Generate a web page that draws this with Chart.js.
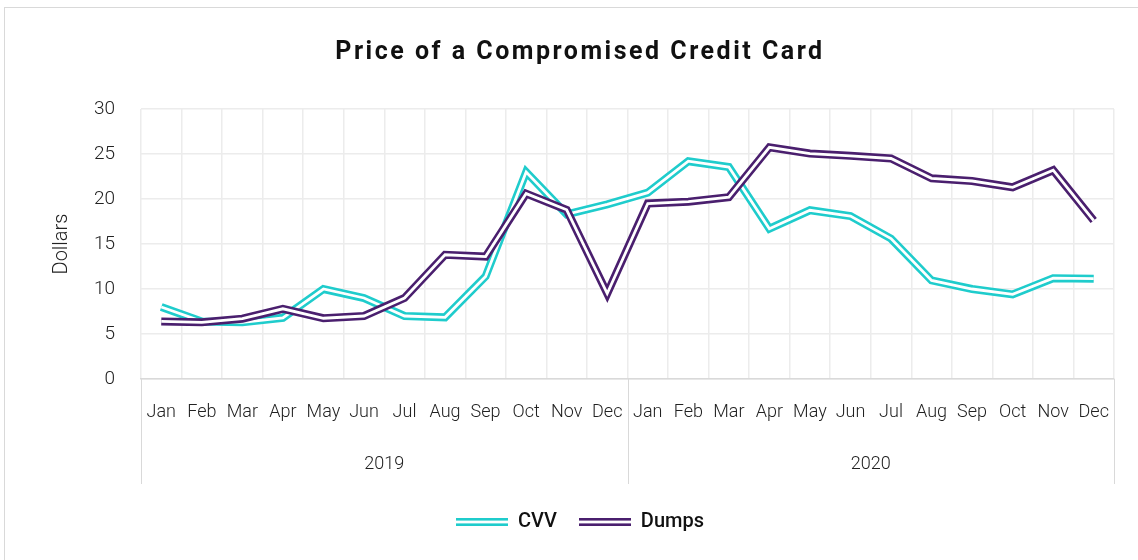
<!DOCTYPE html>
<html>
<head>
<meta charset="utf-8">
<script src="https://cdn.jsdelivr.net/npm/chart.js@4"></script>
<style>
  html, body { margin: 0; padding: 0; background: #ffffff; }
  #frame { position: absolute; left: 4px; top: 7px; width: 1160px; height: 600px; border: 1px solid #d9d9d9; box-sizing: border-box; }
  #wrap { position: absolute; left: 0; top: 0; width: 1138px; height: 560px; }
</style>
</head>
<body>
<div id="frame"></div>
<div id="wrap"><canvas id="c" width="1138" height="560"></canvas></div>
<script>
// ---- data ----
const monthLabels = ['Jan','Feb','Mar','Apr','May','Jun','Jul','Aug','Sep','Oct','Nov','Dec'];
const years = ['2019','2020'];
const cvv = [8.0, 6.4, 6.3, 6.8, 10.0, 9.0, 7.0, 6.85, 11.4, 23.0, 18.3, 19.4,
             20.7, 24.2, 23.55, 16.7, 18.75, 18.1, 15.6, 10.95, 10.0, 9.4, 11.2, 11.15];
const dumps = [6.4, 6.3, 6.7, 7.8, 6.75, 7.0, 9.0, 13.8, 13.6, 20.6, 18.8, 9.5,
               19.5, 19.7, 20.2, 25.75, 25.05, 24.8, 24.5, 22.3, 22.0, 21.3, 23.2, 17.6];
const yTicks = [0, 5, 10, 15, 20, 25, 30];

const categories = years.flatMap(() => monthLabels);

const CVV_COLOR = '#1fcccc';
const DUMPS_COLOR = '#4a1f6e';

function doubleLineSwatch(color) {
  const cv = document.createElement('canvas');
  cv.width = 52; cv.height = 8;
  const c = cv.getContext('2d');
  c.fillStyle = color; c.fillRect(0, 0, 52, 8);
  c.fillStyle = '#ffffff'; c.fillRect(0, 2.6, 52, 2.8);
  return cv;
}

const groupSeparators = {
  id: 'groupSeparators',
  afterDraw(chart) {
    const x = chart.scales.x, x2 = chart.scales.x2;
    const ctx = chart.ctx;
    const per = categories.length / years.length;
    ctx.save();
    ctx.strokeStyle = '#d9d9d9';
    ctx.lineWidth = 1;
    for (let g = 0; g <= years.length; g++) {
      const px = Math.round(x.getPixelForValue(g * per - 0.5)) + 0.5;
      ctx.beginPath();
      ctx.moveTo(px, x.top);
      ctx.lineTo(px, x2.bottom - 6);
      ctx.stroke();
    }
    ctx.restore();
  }
};

const titleSpacing = {
  id: 'titleSpacing',
  afterLayout(chart) {
    const tb = chart.titleBlock;
    if (tb && !tb._spaced) {
      const orig = tb.draw.bind(tb);
      tb.draw = function () {
        const c = this.ctx; c.save();
        try { c.letterSpacing = '2.5px'; } catch (e) {}
        orig(); c.restore();
      };
      tb._spaced = true;
    }
  }
};

const common = { pointRadius: 0, pointHoverRadius: 0, tension: 0, borderJoinStyle: 'miter', borderCapStyle: 'butt', fill: false };

new Chart(document.getElementById('c'), {
  type: 'line',
  data: {
    labels: categories,
    datasets: [
      Object.assign({ label: 'CVV', data: cvv, borderColor: CVV_COLOR, backgroundColor: CVV_COLOR, borderWidth: 8, pointStyle: doubleLineSwatch(CVV_COLOR), order: 4 }, common),
      Object.assign({ label: '', data: cvv, borderColor: '#ffffff', borderWidth: 2.8, order: 3 }, common),
      Object.assign({ label: 'Dumps', data: dumps, borderColor: DUMPS_COLOR, backgroundColor: DUMPS_COLOR, borderWidth: 8, pointStyle: doubleLineSwatch(DUMPS_COLOR), order: 2 }, common),
      Object.assign({ label: '', data: dumps, borderColor: '#ffffff', borderWidth: 2.8, order: 1 }, common)
    ]
  },
  options: {
    responsive: false,
    animation: false,
    layout: { padding: { left: 46, right: 24, top: 0, bottom: 18 } },
    plugins: {
      tooltip: { enabled: false },
      title: {
        display: true,
        text: 'Price of a Compromised Credit Card',
        color: '#111111',
        font: { family: 'Roboto', size: 25, weight: '700' },
        padding: { top: 38, bottom: 41 }
      },
      legend: {
        position: 'bottom',
        labels: {
          usePointStyle: true,
          pointStyleWidth: 52,
          padding: 22,
          color: '#111111',
          font: { family: 'Roboto', size: 20, weight: '500' },
          filter: (item) => item.text !== '',
          sort: (a, b) => a.datasetIndex - b.datasetIndex
        }
      }
    },
    scales: {
      x: {
        type: 'category',
        weight: 1,
        offset: true,
        grid: { display: true, offset: true, color: '#ececec', lineWidth: 1.5, drawTicks: false },
        border: { display: true, color: '#d9d9d9', width: 1.5 },
        ticks: { autoSkip: false, maxRotation: 0, minRotation: 0, padding: 23, color: '#222222', font: { family: 'Roboto', size: 18, weight: '300' } },
        afterFit(s) { s.height = 60; }
      },
      x2: {
        type: 'category',
        position: 'bottom',
        weight: 2,
        labels: years,
        offset: true,
        grid: { display: false, drawTicks: false },
        border: { display: false },
        ticks: { autoSkip: false, maxRotation: 0, padding: 15, color: '#222222', font: { family: 'Roboto', size: 18, weight: '300' } },
        afterFit(s) { s.height = 51; }
      },
      y: {
        min: 0, max: 30,
        afterBuildTicks(s) { s.ticks = yTicks.map(v => ({ value: v })); },
        grid: { color: '#ececec', lineWidth: 1.5, drawTicks: false },
        border: { display: false },
        ticks: { padding: 26, color: '#222222', font: { family: 'Roboto', size: 19, weight: '300' } },
        title: { display: true, text: 'Dollars', color: '#222222', font: { family: 'Roboto', size: 20, weight: '300' }, padding: { top: 4, bottom: 20 } },
        afterFit(s) { s.width = 95; }
      }
    }
  },
  plugins: [groupSeparators, titleSpacing]
});
</script>
</body>
</html>
